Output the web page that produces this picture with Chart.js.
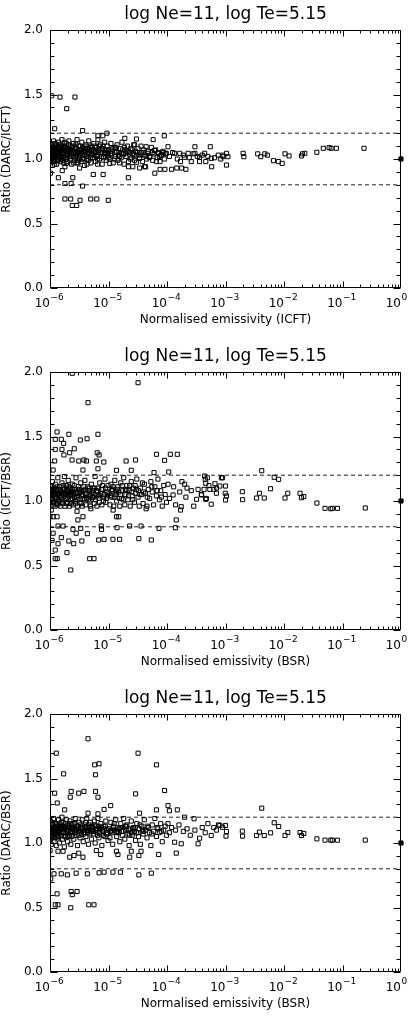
<!DOCTYPE html>
<html>
<head>
<meta charset="utf-8">
<script src="https://cdn.jsdelivr.net/npm/chart.js@4.4.0/dist/chart.umd.min.js"></script>
<style>
  html, body { margin: 0; padding: 0; background: #fff; }
  body { width: 418px; height: 1034px; position: relative; overflow: hidden; }
  canvas { position: absolute; left: 0; }
</style>
</head>
<body>
<canvas id="panel1" width="418" height="342" style="top:0px"></canvas>
<canvas id="panel2" width="418" height="342" style="top:342px"></canvas>
<canvas id="panel3" width="418" height="350" style="top:684px"></canvas>
<script>
// data: [normalised emissivity, ratio]
const chartTitle = 'log Ne=11, log Te=5.15';
const xRange = [1e-6, 1];
const yRange = [0, 2];
const yTickValues = [0, 0.5, 1.0, 1.5, 2.0];
const decades = [-6, -5, -4, -3, -2, -1, 0];
const limitLines = [0.8, 1.2];
const referencePoint = [1, 1.0];

const darcIcft = [
  // outliers
  [1.07e-6,1.49],[1.48e-6,1.48],[1.93e-6,1.39],[2.67e-6,1.48],
  [1.8e-6,0.69],[2.26e-6,0.69],[2.4e-6,0.64],[2.86e-6,0.64],[3.26e-6,0.68],[4.97e-6,0.69],[6.3e-6,0.69],[9.9e-6,0.68],
  [1.8e-6,0.81],[2.3e-6,0.81],[3.6e-6,0.79],[1.39e-6,0.855],[1.02e-6,0.89],[1.62e-6,0.91],[2.45e-6,0.855],[3.2e-6,0.93],
  [5.5e-6,0.88],[8.1e-6,0.88],[2.18e-5,0.855],[6.2e-5,0.89],[7.6e-5,0.92],[9.2e-5,0.92],[1.2e-4,0.92],[1.47e-4,0.93],
  [1.78e-4,0.93],[2.1e-4,0.92],[3.6e-4,0.98],[4.6e-4,0.98],
  [1.2e-6,1.235],[3.6e-6,1.22],[9.4e-6,1.20],[8e-6,1.18],[9e-5,1.18],[5.8e-5,1.15],[3e-5,1.155],[1.9e-5,1.16],[6.6e-6,1.18],
  [1.2e-6,0.96],[1.9e-6,0.965],[3.0e-6,0.97],[4.3e-6,0.96],[6.5e-6,0.96],[1.05e-5,0.965],[1.55e-5,0.97],[2.2e-5,0.94],[3.4e-5,0.93],[4.3e-5,0.94],
  // 1e-6 .. 1e-5
  [1.0e-6,1.02],[1.0e-6,1.08],[1.02e-6,0.97],[1.03e-6,1.12],[1.05e-6,1.05],[1.05e-6,0.99],[1.08e-6,1.10],[1.1e-6,1.03],[1.1e-6,0.95],
  [1.12e-6,1.07],[1.15e-6,1.00],[1.15e-6,1.14],[1.18e-6,1.04],[1.2e-6,0.98],[1.2e-6,1.09],[1.25e-6,1.06],[1.25e-6,1.01],[1.3e-6,1.11],
  [1.3e-6,0.96],[1.33e-6,1.04],[1.37e-6,1.08],[1.4e-6,1.00],[1.4e-6,1.13],[1.45e-6,1.05],[1.5e-6,0.98],[1.5e-6,1.09],[1.55e-6,1.02],
  [1.6e-6,1.07],[1.6e-6,1.15],[1.65e-6,0.99],[1.7e-6,1.04],[1.75e-6,1.10],[1.8e-6,1.01],[1.8e-6,0.94],[1.85e-6,1.06],[1.9e-6,1.12],
  [1.95e-6,1.03],[2.0e-6,0.98],[2.0e-6,1.08],[2.1e-6,1.05],[2.1e-6,1.14],[2.2e-6,1.00],[2.2e-6,1.10],[2.3e-6,1.04],[2.35e-6,0.96],
  [2.4e-6,1.07],[2.5e-6,1.02],[2.5e-6,1.12],[2.6e-6,0.99],[2.65e-6,1.06],[2.7e-6,1.09],[2.8e-6,1.03],[2.9e-6,1.15],[2.9e-6,0.97],
  [3.0e-6,1.05],[3.1e-6,1.10],[3.2e-6,1.01],[3.3e-6,1.07],[3.4e-6,0.98],[3.5e-6,1.13],[3.6e-6,1.04],[3.7e-6,1.08],[3.8e-6,1.00],
  [3.9e-6,0.95],[4.0e-6,1.06],[4.1e-6,1.11],[4.2e-6,1.02],[4.4e-6,1.08],[4.5e-6,0.99],[4.6e-6,1.14],[4.8e-6,1.04],[5.0e-6,1.10],
  [5.0e-6,0.97],[5.2e-6,1.06],[5.4e-6,1.01],[5.6e-6,1.12],[5.8e-6,1.05],[6.0e-6,0.98],[6.2e-6,1.09],[6.4e-6,1.03],[6.6e-6,1.15],
  [6.8e-6,1.07],[7.0e-6,1.00],[7.3e-6,1.11],[7.5e-6,1.04],[7.8e-6,0.96],[8.0e-6,1.08],[8.3e-6,1.02],[8.6e-6,1.13],[8.9e-6,1.05],
  [9.2e-6,0.99],[9.5e-6,1.10],[9.8e-6,1.03],
  [1.01e-6,1.06],[1.04e-6,1.00],[1.07e-6,1.09],[1.09e-6,1.04],[1.13e-6,0.98],[1.17e-6,1.08],[1.22e-6,1.12],[1.28e-6,1.03],
  [1.35e-6,0.99],[1.42e-6,1.07],[1.47e-6,1.11],[1.53e-6,1.04],[1.58e-6,1.00],[1.68e-6,1.09],[1.72e-6,0.97],[1.78e-6,1.13],
  [1.88e-6,1.00],[1.98e-6,1.06],[2.05e-6,1.11],[2.15e-6,1.02],[2.25e-6,1.07],[2.45e-6,1.10],[2.55e-6,0.97],[2.75e-6,1.04],
  [2.85e-6,1.08],[3.05e-6,0.99],[3.15e-6,1.07],[3.35e-6,1.03],[3.55e-6,1.00],[3.75e-6,1.06],[3.95e-6,1.10],[4.3e-6,1.04],
  [4.7e-6,1.07],[4.9e-6,1.01],[5.3e-6,1.09],[5.7e-6,1.03],[6.1e-6,1.06],[6.5e-6,1.00],[6.9e-6,1.10],[7.2e-6,1.05],
  [7.7e-6,1.08],[8.2e-6,1.01],[8.8e-6,1.07],[9.4e-6,1.04],
  [1.01e-6,1.11],[1.03e-6,1.04],[1.06e-6,1.07],[1.11e-6,1.01],[1.14e-6,1.09],[1.16e-6,1.05],[1.19e-6,1.02],[1.23e-6,1.08],
  [1.27e-6,1.10],[1.31e-6,1.05],[1.34e-6,1.09],[1.39e-6,1.03],[1.44e-6,1.09],[1.49e-6,1.02],[1.56e-6,1.10],[1.63e-6,1.05],
  [1.69e-6,1.01],[1.74e-6,1.07],[1.82e-6,1.09],[1.87e-6,1.04],[1.93e-6,1.08],[2.02e-6,1.03],[2.12e-6,1.08],[2.18e-6,1.05],
  [2.28e-6,1.02],[2.38e-6,1.09],[2.52e-6,1.05],[2.68e-6,1.01],[2.78e-6,1.11],[2.95e-6,1.06],[3.12e-6,1.03],[3.28e-6,1.10],
  [3.45e-6,1.05],[3.65e-6,1.09],[3.85e-6,1.03],[4.05e-6,1.08],[4.25e-6,1.00],[4.55e-6,1.05],[4.85e-6,1.09],[5.15e-6,1.03],
  [5.5e-6,1.07],[5.9e-6,1.10],[6.3e-6,1.02],[6.7e-6,1.05],[7.1e-6,1.08],[7.6e-6,1.02],[8.1e-6,1.10],[8.7e-6,1.04],
  [9.3e-6,1.07],[9.9e-6,1.01],
  // 1e-5 .. 1e-4
  [1.0e-5,1.07],[1.05e-5,1.00],[1.1e-5,1.12],[1.15e-5,1.04],[1.2e-5,0.97],[1.25e-5,1.09],[1.3e-5,1.02],[1.35e-5,1.06],[1.4e-5,1.11],
  [1.45e-5,0.99],[1.5e-5,1.05],[1.6e-5,1.08],[1.65e-5,1.01],[1.7e-5,1.13],[1.8e-5,1.04],[1.85e-5,0.96],[1.9e-5,1.07],[2.0e-5,1.02],
  [2.1e-5,1.10],[2.2e-5,0.98],[2.3e-5,1.05],[2.4e-5,1.08],[2.5e-5,1.01],[2.6e-5,1.04],[2.7e-5,1.11],[2.8e-5,0.99],[2.9e-5,1.06],
  [3.0e-5,1.03],[3.2e-5,1.08],[3.4e-5,1.01],[3.6e-5,1.05],[3.8e-5,0.98],[4.0e-5,1.07],[4.2e-5,1.03],[4.5e-5,1.00],[4.8e-5,1.06],
  [5.1e-5,1.02],[5.4e-5,1.09],[5.7e-5,0.99],[6.0e-5,1.04],[6.4e-5,1.07],[6.8e-5,1.01],[7.2e-5,1.05],[7.6e-5,0.98],[8.0e-5,1.03],
  [8.5e-5,1.06],[9.0e-5,1.00],[9.5e-5,1.04],
  [1.08e-5,1.04],[1.18e-5,1.08],[1.28e-5,1.00],[1.38e-5,1.05],[1.55e-5,1.02],[1.75e-5,1.07],[1.95e-5,1.04],[2.15e-5,1.06],
  [2.35e-5,1.00],[2.55e-5,1.07],[2.75e-5,1.03],[3.1e-5,1.05],[3.5e-5,1.03],[4.4e-5,1.02],[5.6e-5,1.05],[7.4e-5,1.02],[8.8e-5,1.05],
  [1.12e-5,1.06],[1.32e-5,1.09],[1.48e-5,1.03],[1.68e-5,1.05],[1.88e-5,1.09],[2.05e-5,1.06],
  [4.4e-5,1.095],[3.9e-5,1.05],[3.6e-5,1.10],[3.4e-5,1.005],[4.15e-5,0.94],[3e-5,0.975],[2.8e-5,1.11],[2.6e-5,0.94],
  [9.7e-5,1.044],[7.9e-5,1.03],[7e-5,1.044],[6.6e-5,0.98],[6.1e-5,1.065],[5e-5,1.013],[4.7e-5,1.044],
  // 1e-4 .. 1
  [1.04e-4,1.095],[1.1e-4,1.02],[1.25e-4,1.05],[1.35e-4,1.044],[1.5e-4,1.00],[1.65e-4,1.044],[1.7e-4,0.98],[1.9e-4,1.03],
  [2e-4,1.013],[2.3e-4,1.044],[2.4e-4,1.01],[2.6e-4,0.98],[2.8e-4,1.04],[3e-4,1.044],[3e-4,1.095],[3.3e-4,1.02],[3.6e-4,1.013],
  [4e-4,1.03],[4.4e-4,1.044],[5e-4,1.02],[5.5e-4,1.095],[5.7e-4,1.005],[5.8e-4,0.94],[6.5e-4,1.01],[7.5e-4,1.03],[8.3e-4,1.00],
  [9e-4,1.03],[9.1e-4,1.018],[1.04e-3,1.044],[1.1e-3,1.018],[1.04e-3,0.953],[2.0e-3,1.044],[2.06e-3,1.018],[3.55e-3,1.04],
  [4e-3,1.018],[4.7e-3,1.04],[5.2e-3,1.03],[6.6e-3,0.987],[8e-3,0.98],[9.3e-3,0.966],[0.0104,1.04],[0.0122,1.024],
  [0.0199,1.024],[0.0207,1.04],[0.0227,1.044],[0.0364,1.052],[0.047,1.083],[0.059,1.088],[0.064,1.083],[0.0785,1.083],[0.233,1.083]
];

const icftBsr = [
  // outliers
  [3.2e-5,1.917],[4.47e-6,1.762],[2.4e-6,1.99],[1.32e-6,1.535],[2.1e-6,1.517],[6.6e-6,1.517],[1.23e-6,1.478],[1.56e-6,1.478],
  [1.71e-6,1.447],[3.3e-6,1.473],[4.3e-6,1.483],[1.23e-6,1.40],[1.6e-6,1.40],[2.6e-6,1.405],[1.73e-6,1.357],[2.17e-6,1.374],
  [6.4e-6,1.374],[6.9e-6,1.357],[1.2e-6,1.31],[2.38e-6,1.318],[3.1e-6,1.31],[3.8e-6,1.318],[4.2e-6,1.31],[6.2e-6,1.31],
  [8.3e-6,1.302],[2.0e-5,1.31],[2.9e-5,1.318],[6.6e-5,1.362],[9.1e-5,1.315],[1.14e-4,1.362],[1.5e-4,1.362],[6.6e-6,1.25],
  [1.13e-6,1.24],[3.66e-6,1.24],[1.37e-5,1.238],[2.45e-5,1.238],[6e-5,1.22],[1.07e-4,1.225],
  [1.13e-6,0.878],[1.32e-6,0.878],[3.66e-6,0.878],[3e-6,0.853],[1.37e-5,0.878],[1.5e-5,0.878],[1.44e-4,0.853],[1.37e-6,0.806],
  [1.67e-6,0.806],[2.47e-6,0.78],[3.35e-6,0.788],[7.5e-6,0.806],[1.4e-5,0.793],[2.3e-5,0.806],[3.6e-5,0.806],[7.3e-5,0.788],
  [1.39e-4,0.793],[7.6e-6,0.78],[1.0e-6,0.88],[1.13e-6,0.75],[2.8e-6,0.75],[4.35e-6,0.747],[1.08e-6,0.695],[1.56e-6,0.716],
  [1.37e-6,0.669],[2.1e-6,0.69],[2.54e-6,0.669],[3.5e-6,0.69],[6.8e-6,0.698],[8.4e-6,0.703],[1.19e-5,0.703],[1.55e-5,0.703],
  [3.3e-5,0.708],[5.4e-5,0.698],[1.23e-6,0.62],[1.95e-6,0.60],[1.23e-6,0.553],[1.33e-6,0.553],[4.77e-6,0.553],[5.65e-6,0.553],
  [2.26e-6,0.465],[1.05e-6,0.93],[2.9e-6,0.92],[5e-6,0.94],[1.2e-5,0.93],[4.4e-5,0.94],[1.7e-4,0.93],
  // 1e-6 .. 1e-5
  [1.0e-6,1.05],[1.0e-6,0.97],[1.02e-6,1.12],[1.04e-6,1.01],[1.06e-6,1.08],[1.08e-6,0.96],[1.1e-6,1.15],[1.12e-6,1.04],
  [1.15e-6,0.99],[1.17e-6,1.10],[1.2e-6,1.06],[1.22e-6,0.96],[1.25e-6,1.13],[1.28e-6,1.02],[1.3e-6,1.08],[1.33e-6,0.97],
  [1.36e-6,1.18],[1.4e-6,1.05],[1.43e-6,1.00],[1.46e-6,1.11],[1.5e-6,0.96],[1.53e-6,1.07],[1.57e-6,1.03],[1.6e-6,1.14],
  [1.64e-6,0.98],[1.68e-6,1.09],[1.72e-6,1.05],[1.76e-6,1.19],[1.8e-6,0.96],[1.85e-6,1.02],[1.9e-6,1.12],[1.95e-6,1.07],
  [2.0e-6,0.99],[2.05e-6,1.16],[2.1e-6,1.04],[2.15e-6,0.96],[2.2e-6,1.10],[2.27e-6,1.01],[2.33e-6,1.07],[2.4e-6,1.13],
  [2.47e-6,0.97],[2.55e-6,1.05],[2.62e-6,1.09],[2.7e-6,1.00],[2.78e-6,1.18],[2.86e-6,1.03],[2.95e-6,0.96],[3.05e-6,1.11],
  [3.15e-6,1.06],[3.25e-6,0.99],[3.35e-6,1.14],[3.45e-6,1.04],[3.57e-6,0.96],[3.7e-6,1.08],[3.82e-6,1.02],[3.95e-6,1.16],
  [4.1e-6,0.97],[4.25e-6,1.06],[4.4e-6,1.11],[4.55e-6,1.01],[4.7e-6,1.05],[4.9e-6,0.96],[5.1e-6,1.13],[5.3e-6,1.03],
  [5.5e-6,1.08],[5.7e-6,0.98],[5.9e-6,1.19],[6.1e-6,1.05],[6.35e-6,0.96],[6.6e-6,1.10],[6.85e-6,1.02],[7.1e-6,1.14],
  [7.4e-6,1.06],[7.7e-6,0.97],[8.0e-6,1.09],[8.3e-6,1.03],[8.7e-6,1.17],[9.0e-6,0.99],[9.4e-6,1.07],[9.8e-6,1.12],
  [1.03e-6,1.09],[1.09e-6,1.02],[1.14e-6,1.07],[1.19e-6,1.00],[1.26e-6,1.05],[1.32e-6,1.11],[1.38e-6,1.01],[1.45e-6,1.06],
  [1.52e-6,1.09],[1.62e-6,1.01],[1.7e-6,1.12],[1.78e-6,1.04],[1.88e-6,1.08],[1.98e-6,1.03],[2.08e-6,1.09],[2.25e-6,1.05],
  [2.43e-6,1.02],[2.6e-6,1.12],[2.8e-6,1.06],[3.0e-6,1.01],[3.2e-6,1.09],[3.5e-6,1.07],[3.8e-6,1.11],[4.15e-6,1.03],
  [4.5e-6,1.08],[4.95e-6,1.04],[5.4e-6,1.10],[6.0e-6,1.01],[6.5e-6,1.07],[7.2e-6,1.04],[7.9e-6,1.12],[8.5e-6,1.05],[9.2e-6,1.02],
  [1.01e-6,1.08],[1.05e-6,1.03],[1.07e-6,1.11],[1.11e-6,0.99],[1.16e-6,1.05],[1.21e-6,1.09],[1.24e-6,1.03],[1.29e-6,0.98],
  [1.34e-6,1.06],[1.41e-6,1.09],[1.48e-6,1.03],[1.55e-6,0.99],[1.66e-6,1.06],[1.74e-6,1.10],[1.83e-6,1.06],[1.92e-6,0.98],
  [2.02e-6,1.05],[2.12e-6,1.11],[2.22e-6,0.98],[2.3e-6,1.04],[2.37e-6,1.09],[2.5e-6,1.07],[2.65e-6,1.03],[2.74e-6,0.98],
  [2.9e-6,1.09],[3.1e-6,1.04],[3.3e-6,1.07],[3.4e-6,0.98],[3.62e-6,1.05],[3.9e-6,1.01],[4.05e-6,1.09],[4.3e-6,1.02],
  [4.65e-6,1.10],[4.8e-6,1.00],[5.2e-6,1.06],[5.6e-6,1.03],[5.8e-6,1.10],[6.25e-6,1.08],[6.75e-6,1.05],[7.0e-6,0.99],
  [7.6e-6,1.09],[8.2e-6,1.00],[8.9e-6,1.10],[9.6e-6,1.04],
  // 1e-5 .. 1e-4
  [1.02e-5,1.06],[1.06e-5,0.97],[1.1e-5,1.13],[1.14e-5,1.03],[1.18e-5,1.09],[1.23e-5,0.96],[1.28e-5,1.16],[1.33e-5,1.05],
  [1.38e-5,1.00],[1.44e-5,1.11],[1.5e-5,1.07],[1.56e-5,0.96],[1.62e-5,1.14],[1.68e-5,1.02],[1.75e-5,1.08],[1.82e-5,1.18],
  [1.9e-5,0.97],[1.98e-5,1.05],[2.06e-5,1.12],[2.15e-5,1.01],[2.25e-5,1.08],[2.35e-5,0.96],[2.45e-5,1.15],[2.55e-5,1.04],
  [2.66e-5,1.10],[2.78e-5,0.99],[2.9e-5,1.06],[3.05e-5,1.17],[3.2e-5,1.03],[3.35e-5,0.96],[3.5e-5,1.10],[3.7e-5,1.05],
  [3.9e-5,0.98],[4.1e-5,1.13],[4.3e-5,1.06],[4.55e-5,0.96],[4.8e-5,1.09],[5.05e-5,1.02],[5.3e-5,1.15],[5.6e-5,1.07],
  [5.9e-5,0.97],[6.2e-5,1.11],[6.6e-5,1.04],[7.0e-5,1.17],[7.4e-5,1.01],[7.8e-5,1.08],[8.3e-5,0.96],[8.8e-5,1.12],
  [9.3e-5,1.05],[9.8e-5,0.99],
  [1.08e-5,1.04],[1.2e-5,1.11],[1.36e-5,1.07],[1.53e-5,1.02],[1.72e-5,1.12],[1.94e-5,1.09],[2.2e-5,1.04],[2.5e-5,1.07],
  [2.85e-5,1.12],[3.25e-5,1.08],[3.8e-5,1.14],[4.6e-5,1.03],[5.5e-5,1.11],[6.8e-5,1.08],[8.0e-5,1.03],
  [1.12e-5,1.08],[1.25e-5,1.03],[1.41e-5,1.09],[1.6e-5,1.05],[1.78e-5,1.01],[2.0e-5,1.08],[2.3e-5,1.12],[2.6e-5,1.01],
  [3.0e-5,1.09],[3.45e-5,1.05],[4.0e-5,1.07],
  // 1e-4 .. 1
  [1.04e-4,1.13],[1.1e-4,1.02],[1.27e-4,1.047],[1.3e-4,1.11],[1.4e-4,0.97],[1.65e-4,1.07],[1.75e-4,0.956],[1.8e-4,1.15],
  [2.0e-4,1.13],[2.1e-4,1.03],[2.2e-4,1.10],[2.6e-4,1.08],[2.86e-4,0.96],[3.2e-4,1.013],[3.4e-4,1.09],[3.86e-4,1.05],
  [4.4e-4,1.194],[4.7e-4,1.02],[5.2e-4,1.12],[5.7e-4,0.975],[6.3e-4,1.09],[7e-4,1.10],[8.5e-4,1.18],[9.9e-4,1.06],
  [4.5e-4,1.168],[4.9e-4,1.18],[4.6e-4,1.137],[4.3e-4,1.09],[5.4e-4,1.09],[6.6e-4,1.134],[7e-4,1.06],[4.6e-4,1.013],[3.9e-4,1.047],
  [8e-4,1.116],[8.9e-4,1.18],[1.0e-3,1.116],[1.04e-3,1.039],[1.0e-3,1.008],[1.94e-3,1.072],[1.96e-3,1.01],[3.4e-3,1.023],
  [3.8e-3,1.06],[4.6e-3,1.023],[4.16e-3,1.235],[5.9e-3,1.095],[6.8e-3,1.184],[8.1e-3,1.168],[0.0104,1.023],[0.0116,1.06],
  [0.0188,1.06],[0.0199,1.026],[0.0218,1.034],[0.0365,0.984],[0.0503,0.943],[0.063,0.94],[0.067,0.943],[0.082,0.943],[0.245,0.946]
];

const darcBsr = [
  // outliers
  [4.47e-6,1.808],[1.28e-6,1.696],[3.2e-5,1.696],[5.8e-6,1.606],[6.9e-6,1.614],[6.6e-5,1.606],[1.71e-6,1.536],[6.0e-6,1.529],
  [1.2e-6,1.386],[2.3e-6,1.40],[2.22e-6,1.355],[3.1e-6,1.386],[3.8e-6,1.40],[6e-6,1.40],[6.6e-6,1.355],[2.9e-5,1.381],
  [9.1e-5,1.407],[1.33e-6,1.31],[1.78e-6,1.257],[1.09e-5,1.29],[8.4e-6,1.26],[4.47e-6,1.231],[6.6e-6,1.226],[3.4e-5,1.231],
  [6.6e-5,1.257],[1.04e-4,1.29],[1.5e-4,1.257],[1.1e-4,1.25],
  [1.0e-6,0.942],[1.37e-6,0.936],[1.67e-6,0.936],[2.17e-6,0.89],[2.57e-6,0.903],[3.1e-6,0.921],[3.66e-6,0.89],[6.2e-6,0.942],
  [7.35e-6,0.911],[1.37e-5,0.936],[1.45e-5,0.911],[2.3e-5,0.89],[2.45e-5,0.936],[3.3e-5,0.903],[3.6e-5,0.936],[7.2e-5,0.911],
  [1.44e-4,0.921],[1.17e-6,0.761],[1.56e-6,0.761],[1.98e-6,0.753],[2.8e-6,0.766],[4.35e-6,0.761],[6.9e-6,0.769],[8.4e-6,0.774],
  [1.19e-5,0.774],[1.6e-5,0.774],[3.3e-5,0.753],[5.4e-5,0.766],[1.03e-6,0.722],[1.32e-6,0.606],[2.3e-6,0.624],[2.9e-6,0.624],
  [2.4e-6,0.60],[1.23e-6,0.521],[1.37e-6,0.521],[2.26e-6,0.498],[4.6e-6,0.521],[5.65e-6,0.521],
  // 1e-6 .. 1e-5
  [1.0e-6,1.12],[1.0e-6,1.03],[1.02e-6,1.17],[1.04e-6,1.08],[1.06e-6,0.99],[1.08e-6,1.14],[1.1e-6,1.10],[1.12e-6,1.05],
  [1.15e-6,1.19],[1.17e-6,1.01],[1.2e-6,1.12],[1.22e-6,1.07],[1.25e-6,1.15],[1.28e-6,0.98],[1.3e-6,1.09],[1.33e-6,1.13],
  [1.36e-6,1.04],[1.4e-6,1.18],[1.43e-6,1.10],[1.46e-6,1.00],[1.5e-6,1.14],[1.53e-6,1.06],[1.57e-6,1.11],[1.6e-6,1.20],
  [1.64e-6,1.03],[1.68e-6,1.16],[1.72e-6,1.08],[1.76e-6,0.97],[1.8e-6,1.12],[1.85e-6,1.05],[1.9e-6,1.18],[1.95e-6,1.09],
  [2.0e-6,1.01],[2.05e-6,1.14],[2.1e-6,1.10],[2.15e-6,1.06],[2.2e-6,1.17],[2.27e-6,0.99],[2.33e-6,1.12],[2.4e-6,1.08],
  [2.47e-6,1.15],[2.55e-6,1.03],[2.62e-6,1.11],[2.7e-6,1.19],[2.78e-6,1.06],[2.86e-6,1.13],[2.95e-6,0.98],[3.05e-6,1.09],
  [3.15e-6,1.16],[3.25e-6,1.04],[3.35e-6,1.12],[3.45e-6,1.07],[3.57e-6,1.18],[3.7e-6,1.01],[3.82e-6,1.10],[3.95e-6,1.14],
  [4.1e-6,1.05],[4.25e-6,1.19],[4.4e-6,1.08],[4.55e-6,0.99],[4.7e-6,1.12],[4.9e-6,1.16],[5.1e-6,1.03],[5.3e-6,1.10],
  [5.5e-6,1.07],[5.7e-6,1.17],[5.9e-6,1.00],[6.1e-6,1.13],[6.35e-6,1.08],[6.6e-6,1.19],[6.85e-6,1.04],[7.1e-6,1.11],
  [7.4e-6,1.15],[7.7e-6,0.98],[8.0e-6,1.09],[8.3e-6,1.13],[8.7e-6,1.05],[9.0e-6,1.17],[9.4e-6,1.10],[9.8e-6,1.02],
  [1.03e-6,1.10],[1.09e-6,1.06],[1.14e-6,1.13],[1.19e-6,1.09],[1.26e-6,1.11],[1.32e-6,1.06],[1.38e-6,1.13],[1.45e-6,1.08],
  [1.52e-6,1.11],[1.62e-6,1.09],[1.7e-6,1.13],[1.78e-6,1.10],[1.88e-6,1.12],[1.98e-6,1.07],[2.08e-6,1.12],[2.25e-6,1.09],
  [2.43e-6,1.11],[2.6e-6,1.08],[2.8e-6,1.10],[3.0e-6,1.13],[3.2e-6,1.09],[3.5e-6,1.11],[3.8e-6,1.07],[4.15e-6,1.12],
  [4.5e-6,1.10],[4.95e-6,1.09],[5.4e-6,1.12],[6.0e-6,1.10],[6.5e-6,1.06],[7.2e-6,1.12],[7.9e-6,1.10],[8.5e-6,1.11],[9.2e-6,1.07],
  [1.01e-6,1.07],[1.05e-6,1.12],[1.07e-6,1.04],[1.11e-6,1.15],[1.16e-6,1.08],[1.21e-6,1.04],[1.24e-6,1.10],[1.29e-6,1.14],
  [1.34e-6,1.08],[1.41e-6,1.05],[1.48e-6,1.12],[1.55e-6,1.16],[1.66e-6,1.11],[1.74e-6,1.05],[1.83e-6,1.15],[1.92e-6,1.10],
  [2.02e-6,1.05],[2.12e-6,1.13],[2.22e-6,1.08],[2.3e-6,1.15],[2.37e-6,1.05],[2.5e-6,1.12],[2.65e-6,1.15],[2.74e-6,1.08],
  [2.9e-6,1.11],[3.1e-6,1.06],[3.3e-6,1.14],[3.4e-6,1.09],[3.62e-6,1.12],[3.9e-6,1.08],[4.05e-6,1.16],[4.3e-6,1.10],
  [4.65e-6,1.14],[4.8e-6,1.07],[5.2e-6,1.13],[5.6e-6,1.09],[5.8e-6,1.14],[6.25e-6,1.11],[6.75e-6,1.13],[7.0e-6,1.08],
  [7.6e-6,1.12],[8.2e-6,1.06],[8.9e-6,1.13],[9.6e-6,1.08],
  // 1e-5 .. 1e-4
  [1.02e-5,1.11],[1.06e-5,1.04],[1.1e-5,1.16],[1.14e-5,1.08],[1.18e-5,0.99],[1.23e-5,1.13],[1.28e-5,1.10],[1.33e-5,1.18],
  [1.38e-5,1.05],[1.44e-5,1.12],[1.5e-5,1.08],[1.56e-5,1.01],[1.62e-5,1.15],[1.68e-5,1.09],[1.75e-5,1.12],[1.82e-5,1.19],
  [1.9e-5,1.03],[1.98e-5,1.10],[2.06e-5,1.14],[2.15e-5,1.07],[2.25e-5,0.98],[2.35e-5,1.11],[2.45e-5,1.17],[2.55e-5,1.06],
  [2.66e-5,1.12],[2.78e-5,1.09],[2.9e-5,1.02],[3.05e-5,1.15],[3.2e-5,1.08],[3.35e-5,1.11],[3.5e-5,0.99],[3.7e-5,1.13],
  [3.9e-5,1.07],[4.1e-5,1.18],[4.3e-5,1.10],[4.55e-5,1.04],[4.8e-5,1.12],[5.05e-5,1.08],[5.3e-5,0.98],[5.6e-5,1.14],
  [5.9e-5,1.09],[6.2e-5,1.19],[6.6e-5,1.05],[7.0e-5,1.11],[7.4e-5,1.08],[7.8e-5,1.15],[8.3e-5,1.01],[8.8e-5,1.10],
  [9.3e-5,1.13],[9.8e-5,1.06],
  [1.08e-5,1.09],[1.2e-5,1.12],[1.36e-5,1.08],[1.53e-5,1.11],[1.72e-5,1.06],[1.94e-5,1.13],[2.2e-5,1.10],[2.5e-5,1.08],
  [2.85e-5,1.12],[3.25e-5,1.05],[3.8e-5,1.10],[4.6e-5,1.13],[5.5e-5,1.07],[6.8e-5,1.12],[8.0e-5,1.09],
  [1.12e-5,1.10],[1.25e-5,1.15],[1.41e-5,1.09],[1.6e-5,1.12],[1.78e-5,1.09],[2.0e-5,1.13],[2.3e-5,1.06],[2.6e-5,1.11],
  [3.0e-5,1.08],[3.45e-5,1.14],[4.0e-5,1.09],
  // 1e-4 .. 1
  [1.04e-4,1.15],[1.1e-4,1.08],[1.2e-4,1.12],[1.35e-4,1.006],[1.4e-4,1.10],[1.6e-4,1.14],[1.75e-4,0.994],[1.9e-4,1.09],
  [2.0e-4,1.20],[2.2e-4,1.11],[2.5e-4,1.06],[2.9e-4,1.188],[3.0e-4,1.10],[3.4e-4,0.994],[3.6e-4,1.037],[4.0e-4,1.12],
  [4.5e-4,1.08],[5.0e-4,1.15],[5.7e-4,1.058],[6.3e-4,1.12],[7.0e-4,1.10],[7.6e-4,1.14],[8e-4,1.136],[8.9e-4,1.122],
  [1.0e-3,1.136],[1.04e-3,1.089],[1.02e-3,1.053],[1.94e-3,1.092],[1.96e-3,1.053],[3.4e-3,1.058],[3.8e-3,1.084],[4.6e-3,1.058],
  [4.16e-3,1.27],[5.9e-3,1.079],[6.8e-3,1.157],[8.1e-3,1.128],[0.0104,1.058],[0.0116,1.081],[0.0188,1.081],[0.0199,1.058],
  [0.0218,1.074],[0.0365,1.032],[0.0503,1.022],[0.063,1.022],[0.067,1.022],[0.082,1.022],[0.245,1.022]
];

Chart.defaults.font.family = 'DejaVu Sans';
Chart.defaults.color = '#000';

const PLOT_BOTTOM = 288;
const X_TITLE_Y = 320;

// IDL style frame: box with inward ticks on all four sides plus 10^n labels
const idlFrame = {
  id: 'idlFrame',
  afterDraw(chart) {
    const {ctx, chartArea: a, scales: {x, y}} = chart;
    const L = Math.round(a.left) + 0.5, R = Math.round(a.right) - 0.5;
    const T = Math.round(a.top) + 0.5, B = Math.round(a.bottom) - 0.5;
    ctx.save();
    ctx.strokeStyle = '#000';
    ctx.lineWidth = 1;
    ctx.beginPath();
    ctx.rect(L, T, R - L, B - T);
    // x ticks
    decades.forEach(d => {
      if (d === 0) return;
      for (let m = 1; m <= 9; m++) {
        const px = Math.round(x.getPixelForValue(m * Math.pow(10, d))) + 0.5;
        const len = m === 1 ? 6 : 3;
        ctx.moveTo(px, B); ctx.lineTo(px, B - len);
        ctx.moveTo(px, T); ctx.lineTo(px, T + len);
      }
    });
    // y ticks
    for (let i = 0; i <= 20; i++) {
      const py = Math.round(y.getPixelForValue(i / 10)) + 0.5;
      const len = i % 5 === 0 ? 7 : 4;
      ctx.moveTo(L, py); ctx.lineTo(L + len, py);
      ctx.moveTo(R, py); ctx.lineTo(R - len, py);
    }
    ctx.stroke();

    // decade labels 10^n
    ctx.fillStyle = '#000';
    ctx.textBaseline = 'alphabetic';
    decades.forEach(d => {
      const px = x.getPixelForValue(Math.pow(10, d));
      ctx.font = '12px "DejaVu Sans"';
      ctx.textAlign = 'right';
      ctx.fillText('10', px, 307);
      ctx.font = '9px "DejaVu Sans"';
      ctx.textAlign = 'left';
      ctx.fillText(d === 0 ? '0' : '\u2212' + Math.abs(d), px + 0.5, 300);
    });
    ctx.restore();
  }
};

function makePanel(id, points, yTitle, xTitle) {
  const canvas = document.getElementById(id);
  const h = canvas.height;
  return new Chart(canvas, {
    type: 'scatter',
    data: {
      datasets: [
        {
          data: points.map(([x, y]) => ({x, y})),
          pointStyle: 'rect',
          pointRadius: 2.9,
          pointBorderWidth: 1,
          pointBorderColor: '#000',
          pointBackgroundColor: 'rgba(0,0,0,0)'
        },
        {
          data: [{x: referencePoint[0], y: referencePoint[1]}],
          pointStyle: 'rect',
          pointRadius: 2.9,
          pointBorderWidth: 1,
          pointBorderColor: '#000',
          pointBackgroundColor: '#000',
          clip: false
        },
        ...limitLines.map(v => ({
          type: 'line',
          data: [{x: xRange[0], y: v}, {x: xRange[1], y: v}],
          borderColor: '#222',
          borderWidth: 1,
          borderDash: [4, 3],
          pointRadius: 0,
          fill: false
        }))
      ]
    },
    options: {
      responsive: false,
      animation: false,
      events: [],
      layout: {autoPadding: false, padding: {top: 0, left: 0, right: 17, bottom: 0}},
      plugins: {
        legend: {display: false},
        tooltip: {enabled: false},
        title: {
          display: true,
          text: chartTitle,
          fullSize: false,
          color: '#000',
          font: {size: 17, weight: 'normal'},
          padding: {top: 4.5, bottom: 5.1}
        }
      },
      scales: {
        x: {
          type: 'logarithmic',
          min: xRange[0],
          max: xRange[1],
          afterFit: s => { s.height = h - PLOT_BOTTOM; },
          grid: {display: false, drawTicks: false},
          border: {display: false},
          ticks: {display: false},
          title: {
            display: true,
            text: xTitle,
            color: '#000',
            font: {size: 12},
            padding: {top: 0, bottom: h - X_TITLE_Y - 7.2}
          }
        },
        y: {
          min: yRange[0],
          max: yRange[1],
          afterFit: s => { s.width = 50; },
          afterBuildTicks: s => { s.ticks = yTickValues.map(v => ({value: v})); },
          grid: {display: false, drawTicks: false},
          border: {display: false},
          ticks: {padding: 7, color: '#000', font: {size: 12}, callback: v => v.toFixed(1)},
          title: {
            display: true,
            text: yTitle,
            color: '#000',
            font: {size: 12},
            padding: {top: 0, bottom: 0}
          }
        }
      }
    },
    plugins: [idlFrame]
  });
}

makePanel('panel1', darcIcft, 'Ratio (DARC/ICFT)', 'Normalised emissivity (ICFT)');
makePanel('panel2', icftBsr, 'Ratio (ICFT/BSR)', 'Normalised emissivity (BSR)');
makePanel('panel3', darcBsr, 'Ratio (DARC/BSR)', 'Normalised emissivity (BSR)');
</script>
</body>
</html>
